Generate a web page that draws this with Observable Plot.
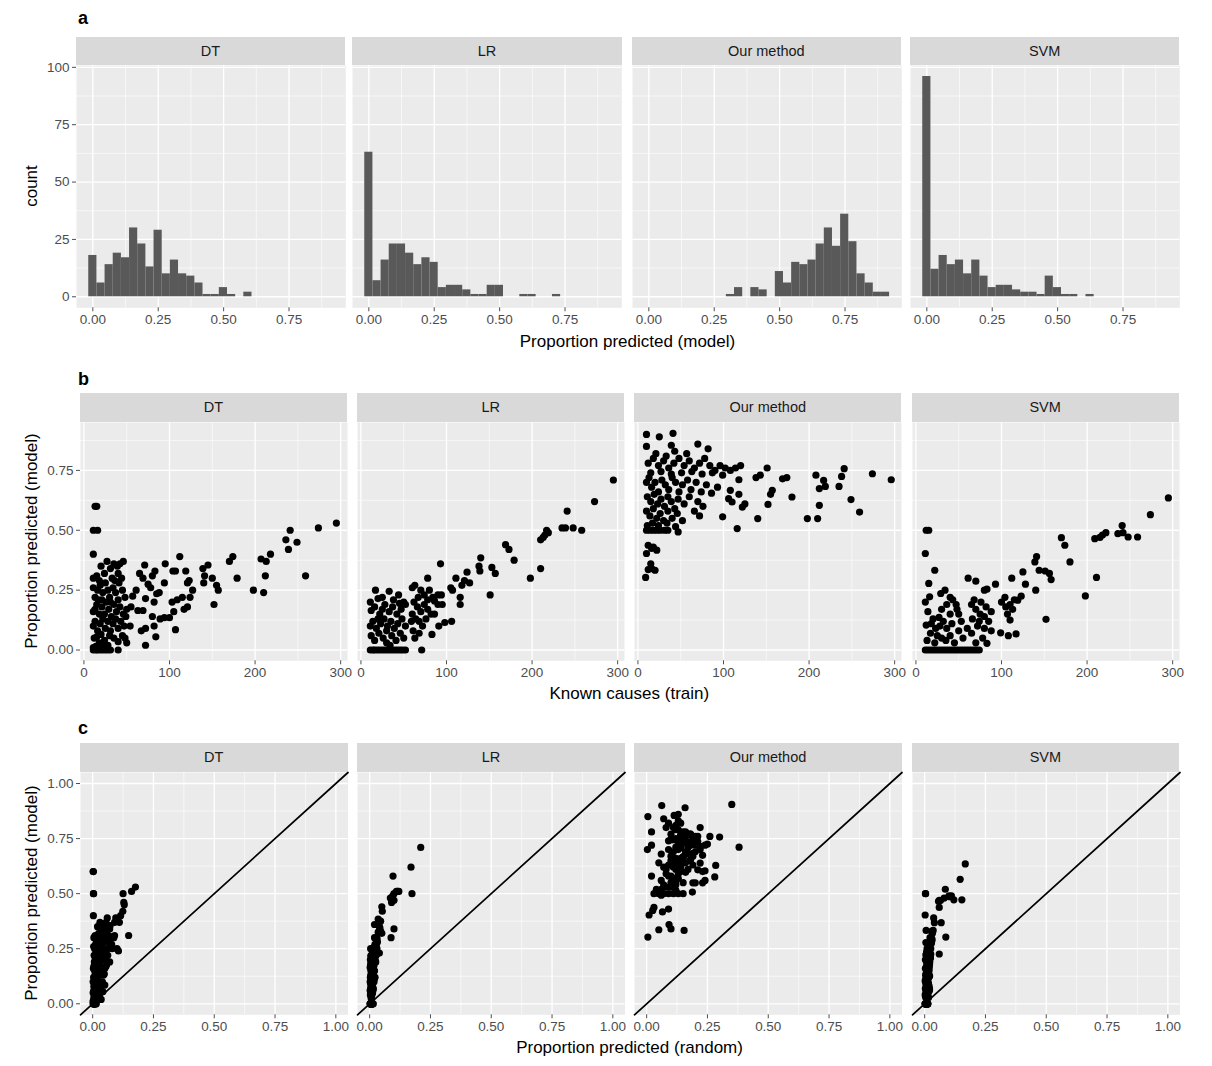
<!DOCTYPE html>
<html><head><meta charset="utf-8">
<script src="https://cdn.jsdelivr.net/npm/d3@7"></script>
<script src="https://cdn.jsdelivr.net/npm/@observablehq/plot@0.6"></script>
<style>
body{margin:0;background:#fff;font-family:"Liberation Sans",Arial,Helvetica,sans-serif;}
#fig{position:relative;width:1212px;height:1066px;overflow:hidden;background:#fff;}
.strip{position:absolute;background:#D9D9D9;color:#1A1A1A;font-size:14.5px;display:flex;align-items:center;justify-content:center;}
.lbl{position:absolute;font-weight:bold;font-size:18px;line-height:1;color:#000;}
.title{position:absolute;font-size:17px;line-height:1;color:#000;white-space:nowrap;transform:translate(-50%,-50%);}
.ytitle{position:absolute;font-size:17px;line-height:1;color:#000;white-space:nowrap;transform:translate(-50%,-50%) rotate(-90deg);}
</style></head><body><div id="fig"></div>
<script>
// ---------------- data ----------------
const methods = ["DT", "LR", "Our method", "SVM"];
const binWidth = 0.0312; // histogram bin width (bins centred on 0, 0.0312, ...)
const histDT  = [18,6,14,19,17,30,23,13,29,10,16,10,9,6,1,1,4,1,0,2];
const histLR  = [63,7,16,23,23,19,14,17,15,4,5,5,3,1,1,5,5,0,0,1,1,0,0,1];
const histOur = [0,0,0,0,0,0,0,0,0,0,1,4,0,4,3,0,11,6,15,14,16,23,30,22,36,24,10,6,2,2];
const histSVM = [96,12,18,14,16,10,16,9,4,5,5,3,2,2,1,9,4,1,1,0,1];

// each item: [known causes (train), proportion predicted (model), proportion predicted (random)]
const ptsDT = [
[295,0.53,0.176],[274,0.51,0.16],[241,0.50,0.125],[236,0.46,0.128],[239,0.42,0.124],[249,0.45,0.13],[259,0.31,0.148],[207,0.38,0.10],[213,0.37,0.11],[218,0.40,0.115],[212,0.31,0.09],[210,0.24,0.106],[198,0.25,0.10],[179,0.30,0.087],[170,0.37,0.09],[174,0.39,0.095],
[139,0.34,0.07],[145,0.355,0.072],[140,0.28,0.068],[141,0.31,0.066],[150,0.30,0.075],[155,0.27,0.078],[157,0.25,0.08],[152,0.19,0.07],
[112,0.39,0.06],[119,0.33,0.058],[123,0.29,0.06],[127,0.25,0.062],[121,0.28,0.055],[124,0.22,0.062],[121,0.18,0.058],[117,0.17,0.055],[115,0.22,0.057],[109,0.21,0.054],[105,0.16,0.05],[107,0.085,0.05],[103,0.20,0.05],
[95,0.36,0.048],[104,0.33,0.05],[107,0.33,0.052],[94,0.28,0.046],[94,0.135,0.045],[100,0.135,0.048],[89,0.13,0.044],[85,0.235,0.042],[88,0.24,0.043],[83,0.33,0.04],[82,0.20,0.04],[80,0.14,0.04],[82,0.10,0.04],[84,0.055,0.042],[80,0.31,0.041],
[71,0.355,0.035],[65,0.32,0.032],[69,0.30,0.035],[75,0.275,0.036],[78,0.26,0.038],[72,0.215,0.035],[69,0.165,0.034],[63,0.165,0.03],[67,0.08,0.033],[72,0.09,0.035],[72,0.02,0.035],[61,0.25,0.03],[57,0.225,0.028],[55,0.18,0.027],[54,0.10,0.027],[50,0.03,0.025],[48,0.05,0.024],
[13,0.60,0.002],[15,0.60,0.003],[11,0.50,0.003],[16,0.50,0.004],[11,0.40,0.003],
[11,0.30,0.005],[15,0.31,0.01],[20,0.35,0.02],[24,0.32,0.025],[27,0.37,0.03],[31,0.34,0.035],[35,0.36,0.04],[39,0.35,0.045],[42,0.36,0.05],[46,0.37,0.055],[40,0.32,0.03],[18,0.29,0.015],[33,0.30,0.025],[44,0.30,0.035],
[11,0.26,0.004],[16,0.25,0.008],[13,0.22,0.006],[19,0.27,0.012],[22,0.24,0.015],[25,0.28,0.02],[28,0.25,0.018],[30,0.22,0.02],[34,0.26,0.028],[37,0.24,0.03],[41,0.28,0.038],[45,0.25,0.035],[48,0.22,0.04],[21,0.21,0.012],[36,0.29,0.032],
[11,0.16,0.003],[13,0.17,0.005],[15,0.19,0.007],[18,0.15,0.008],[21,0.18,0.01],[24,0.15,0.012],[26,0.20,0.015],[29,0.17,0.016],[32,0.14,0.018],[35,0.19,0.022],[38,0.16,0.02],[42,0.18,0.028],[46,0.15,0.025],[50,0.17,0.03],[49,0.14,0.027],[17,0.21,0.01],[31,0.20,0.02],[40,0.21,0.025],
[11,0.10,0.002],[13,0.12,0.004],[16,0.08,0.005],[19,0.11,0.007],[22,0.13,0.01],[25,0.09,0.01],[28,0.12,0.013],[31,0.08,0.012],[34,0.11,0.016],[37,0.13,0.02],[40,0.09,0.018],[43,0.12,0.022],[47,0.10,0.024],[20,0.065,0.006],[30,0.06,0.01],[45,0.06,0.02],
[12,0.05,0.002],[15,0.055,0.004],[18,0.03,0.005],[24,0.04,0.008],[35,0.05,0.012],[40,0.035,0.015],[28,0.02,0.008],[14,0.015,0.003],[22,0.012,0.005],[11,0.01,0.002],
[11,0,0.002],[14,0,0.003],[16,0,0.004],[19,0,0.005],[22,0,0.006],[25,0,0.008],[28,0,0.01],[31,0,0.012],[40,0,0.015]
];
const ptsLR = [
[295,0.71,0.21],[273,0.62,0.17],[241,0.58,0.096],[235,0.51,0.11],[239,0.51,0.115],[248,0.51,0.12],[258,0.50,0.174],[217,0.50,0.10],[219,0.49,0.095],[210,0.46,0.09],[215,0.48,0.085],[213,0.47,0.10],[210,0.34,0.10],[198,0.30,0.088],[169,0.44,0.05],[173,0.42,0.052],[179,0.375,0.045],
[140,0.385,0.035],[138,0.35,0.04],[139,0.33,0.045],[153,0.345,0.042],[157,0.32,0.05],[151,0.23,0.04],[124,0.325,0.035],[127,0.28,0.032],[121,0.29,0.03],[111,0.30,0.03],[118,0.27,0.028],[107,0.25,0.03],[116,0.22,0.027],[116,0.19,0.025],[105,0.26,0.025],[94,0.23,0.024],[93,0.36,0.02],[78,0.30,0.02],[98,0.115,0.02],[106,0.12,0.022],[91,0.10,0.018],[83,0.065,0.015],[71,0,0.015],
[17,0.25,0.004],[11,0.20,0.003],[33,0.245,0.01],[44,0.23,0.012],[25,0.22,0.006],[38,0.21,0.01],[50,0.20,0.013],[20,0.215,0.005],
[12,0.165,0.002],[16,0.18,0.004],[22,0.15,0.005],[28,0.19,0.007],[33,0.16,0.008],[37,0.18,0.009],[42,0.15,0.01],[47,0.17,0.012],[52,0.19,0.014],[25,0.17,0.006],[45,0.195,0.011],
[11,0.10,0.002],[14,0.12,0.003],[18,0.09,0.004],[23,0.11,0.005],[27,0.13,0.006],[31,0.10,0.007],[35,0.12,0.008],[39,0.09,0.009],[43,0.11,0.01],[48,0.13,0.012],[52,0.10,0.013],[20,0.13,0.005],[30,0.08,0.007],
[12,0.06,0.002],[16,0.04,0.003],[21,0.07,0.004],[26,0.05,0.005],[30,0.03,0.006],[36,0.06,0.008],[41,0.04,0.009],[46,0.07,0.01],[50,0.05,0.011],[34,0.02,0.007],
[11,0,0.002],[14,0,0.002],[16,0,0.003],[19,0,0.004],[22,0,0.004],[25,0,0.005],[28,0,0.006],[31,0,0.006],[34,0,0.007],[37,0,0.008],[40,0,0.008],[43,0,0.009],[46,0,0.01],[49,0,0.01],[52,0,0.011],
[60,0.26,0.02],[63,0.27,0.022],[67,0.22,0.018],[70,0.25,0.02],[74,0.23,0.022],[78,0.21,0.02],[80,0.25,0.025],[84,0.22,0.024],[86,0.205,0.022],[90,0.19,0.022],[95,0.19,0.024],[62,0.20,0.015],[66,0.18,0.016],[70,0.16,0.015],[74,0.19,0.018],[78,0.17,0.017],[82,0.15,0.018],[60,0.15,0.013],[64,0.13,0.014],[59,0.12,0.012],[68,0.12,0.014],[72,0.10,0.015],[76,0.13,0.016],[61,0.08,0.012],[63,0.05,0.012],[68,0.07,0.014],[86,0.15,0.02],[90,0.23,0.025]
];
const ptsOur = [
[10,0.90,0.062],[41,0.905,0.35],[25,0.89,0.158],[10,0.85,0.005],[39,0.855,0.113],[70,0.86,0.13],[82,0.84,0.07],[43,0.83,0.13],
[151,0.76,0.26],[138,0.72,0.20],[143,0.73,0.18],[169,0.715,0.22],[174,0.72,0.24],[208,0.73,0.16],[241,0.757,0.30],[238,0.725,0.25],[274,0.736,0.21],[296,0.711,0.38],[217,0.708,0.14],[219,0.683,0.19],[212,0.674,0.23],[235,0.683,0.17],[249,0.628,0.284],[259,0.576,0.28],[212,0.604,0.24],[210,0.549,0.23],[198,0.549,0.20],[180,0.639,0.22],[157,0.667,0.15],[155,0.65,0.18],[152,0.608,0.21],[140,0.549,0.19],[116,0.507,0.188],[122,0.597,0.16],[125,0.61,0.17],[118,0.711,0.12],[108,0.667,0.15],[118,0.65,0.11],[106,0.632,0.13],[110,0.618,0.14],[99,0.556,0.12],[93,0.68,0.16],
[12,0.78,0.02],[18,0.80,0.08],[24,0.77,0.10],[30,0.79,0.12],[36,0.76,0.14],[42,0.78,0.16],[48,0.80,0.11],[54,0.77,0.18],[60,0.79,0.13],[66,0.76,0.20],[72,0.78,0.15],[78,0.80,0.22],[84,0.77,0.17],[90,0.75,0.19],[96,0.77,0.14],[102,0.76,0.21],[108,0.75,0.12],[114,0.76,0.16],[120,0.77,0.18],[15,0.74,0.09],[27,0.745,0.11],[39,0.735,0.13],[51,0.74,0.15],[63,0.745,0.10],[75,0.735,0.17],[87,0.74,0.14],[99,0.73,0.20],[33,0.81,0.12],[57,0.82,0.09],[21,0.82,0.14],
[10,0.70,0.003],[13,0.72,0.02],[16,0.68,0.06],[20,0.70,0.09],[24,0.66,0.12],[28,0.71,0.14],[32,0.69,0.16],[36,0.67,0.10],[40,0.72,0.18],[44,0.70,0.13],[48,0.66,0.15],[52,0.69,0.20],[58,0.71,0.17],[62,0.67,0.19],[68,0.70,0.22],[74,0.66,0.14],[80,0.69,0.11],[86,0.655,0.18],
[11,0.64,0.05],[15,0.62,0.07],[19,0.65,0.10],[23,0.61,0.12],[27,0.63,0.09],[31,0.60,0.14],[35,0.64,0.16],[39,0.62,0.11],[43,0.59,0.13],[47,0.63,0.19],[54,0.61,0.08],[60,0.64,0.15],[70,0.62,0.12],[76,0.60,0.23],
[10,0.58,0.02],[14,0.56,0.06],[18,0.59,0.08],[22,0.55,0.10],[26,0.57,0.13],[30,0.54,0.07],[35,0.58,0.09],[40,0.55,0.15],[46,0.57,0.11],[52,0.54,0.12],[66,0.58,0.10],[72,0.56,0.24],
[11,0.52,0.04],[17,0.53,0.08],[24,0.52,0.06],[34,0.53,0.10],[44,0.515,0.12],
[10,0.50,0.03],[14,0.50,0.05],[18,0.50,0.07],[22,0.50,0.09],[26,0.50,0.11],[31,0.50,0.13],[35,0.50,0.15],[47,0.493,0.06],
[9,0.303,0.005],[12,0.336,0.05],[16,0.34,0.10],[20,0.333,0.154],[15,0.36,0.092],[10,0.403,0.01],[16,0.424,0.025],[22,0.417,0.065],[18,0.43,0.09],[12,0.4375,0.03]
];
const ptsSVM = [
[295,0.635,0.167],[274,0.565,0.146],[241,0.52,0.085],[236,0.486,0.102],[242,0.49,0.11],[248,0.472,0.153],[259,0.472,0.12],[209,0.465,0.057],[215,0.47,0.06],[218,0.48,0.08],[222,0.49,0.10],[211,0.303,0.087],[198,0.226,0.06],[170,0.469,0.065],[174,0.4375,0.06],[180,0.368,0.068],
[141,0.39,0.037],[139,0.368,0.04],[144,0.333,0.035],[151,0.33,0.03],[156,0.32,0.032],[158,0.294,0.03],[140,0.25,0.025],[152,0.128,0.02],[125,0.326,0.03],[128,0.275,0.028],[112,0.30,0.027],[123,0.225,0.025],[119,0.208,0.024],[115,0.21,0.023],[105,0.18,0.02],[110,0.125,0.02],[99,0.072,0.018],[108,0.06,0.02],[117,0.067,0.02],[93,0.275,0.025],[83,0.254,0.02],[80,0.25,0.022],[70,0.2875,0.03],[61,0.30,0.022],
[100,0.20,0.02],[104,0.22,0.022],[110,0.19,0.021],[113,0.17,0.019],[107,0.15,0.018],
[12,0.50,0.003],[15,0.50,0.004],[11,0.403,0.002],[22,0.333,0.006],[15,0.278,0.005],[34,0.25,0.01],[29,0.236,0.008],[16,0.222,0.005],[11,0.20,0.003],[40,0.22,0.009],[43,0.21,0.01],
[47,0.19,0.01],[48,0.17,0.01],[50,0.15,0.011],[53,0.12,0.012],[27,0.136,0.006],[20,0.13,0.004],[12,0.104,0.002],[17,0.07,0.003],[25,0.06,0.005],[35,0.04,0.007],[45,0.03,0.008],[55,0.05,0.01],[60,0.09,0.012],[14,0.16,0.003],[18,0.11,0.004],[23,0.09,0.005],[28,0.10,0.006],[32,0.12,0.007],[36,0.09,0.008],[40,0.15,0.009],[42,0.11,0.009],[30,0.17,0.007],[36,0.19,0.008],[13,0.04,0.002],[22,0.03,0.004],[30,0.05,0.006],[40,0.06,0.008],[50,0.08,0.01],
[65,0.19,0.013],[70,0.17,0.014],[75,0.15,0.015],[80,0.14,0.016],[85,0.12,0.017],[72,0.10,0.014],[65,0.07,0.013],[78,0.05,0.015],[83,0.028,0.016],[70,0.03,0.014],[68,0.21,0.014],[76,0.20,0.016],[82,0.18,0.017],[88,0.16,0.018],[66,0.13,0.013],[74,0.12,0.015],[80,0.09,0.016],[88,0.08,0.018],
[11,0,0.002],[14,0,0.002],[17,0,0.003],[20,0,0.003],[23,0,0.004],[26,0,0.005],[29,0,0.005],[32,0,0.006],[35,0,0.006],[38,0,0.007],[41,0,0.007],[44,0,0.008],[47,0,0.008],[50,0,0.009],[53,0,0.01],[56,0,0.01],[59,0,0.011],[62,0,0.011],[65,0,0.012],[68,0,0.012],[71,0,0.013],[74,0,0.013]
];

// tick values
const ticksA_x = [0, 0.25, 0.5, 0.75];
const minorA_x = [0.125, 0.375, 0.625, 0.875];
const ticksA_y = [0, 25, 50, 75, 100];
const minorA_y = [12.5, 37.5, 62.5, 87.5];
const ticksB_x = [0, 100, 200, 300];
const minorB_x = [50, 150, 250];
const ticksB_y = [0, 0.25, 0.5, 0.75];
const minorB_y = [0.125, 0.375, 0.625, 0.875];
const ticksC = [0, 0.25, 0.5, 0.75, 1];
const minorC = [0.125, 0.375, 0.625, 0.875];

const hists = [histDT, histLR, histOur, histSVM];
const points = [ptsDT, ptsLR, ptsOur, ptsSVM];

// ---------------- layout ----------------
const fig = document.getElementById("fig");
const f2 = d3.format(".2f");
const fInt = d3.format("d");
const cDomain = [-0.05, 1.05];

const rows = [
  {letter:"a", stripTop:37.3, top:65, h:242.3, w:269.3, lefts:[75.7,352.3,631.7,910],
   xDomain:[-0.0624,0.967], yDomain:[-4.8,100.8], xT:ticksA_x, xM:minorA_x, yT:ticksA_y, yM:minorA_y,
   xF:f2, yF:fInt, letterTop:9,
   xTitle:"Proportion predicted (model)", xTitleY:341, yTitle:"count"},
  {letter:"b", stripTop:393, top:421.7, h:238.3, w:267, lefts:[80,357.3,634.3,911.6],
   xDomain:[-4,308], yDomain:[-0.045,0.95], xT:ticksB_x, xM:minorB_x, yT:ticksB_y, yM:minorB_y,
   xF:fInt, yF:f2, letterTop:370,
   xTitle:"Known causes (train)", xTitleY:693, yTitle:"Proportion predicted (model)"},
  {letter:"c", stripTop:743.3, top:771.7, h:242.3, w:267.5, lefts:[80,357.3,634.3,911.6],
   xDomain:cDomain, yDomain:cDomain, xT:ticksC, xM:minorC, yT:ticksC, yM:minorC,
   xF:f2, yF:f2, letterTop:719,
   xTitle:"Proportion predicted (random)", xTitleY:1047, yTitle:"Proportion predicted (model)"}
];

function addDiv(cls, text, css) {
  const d = document.createElement("div");
  d.className = cls; d.textContent = text;
  Object.assign(d.style, css);
  fig.appendChild(d);
  return d;
}

rows.forEach((row, r) => {
  addDiv("lbl", row.letter, {left:"78px", top:row.letterTop + "px"});
  const x0 = row.lefts[0], x1 = row.lefts[3] + row.w;
  addDiv("title", row.xTitle, {left:((x0 + x1) / 2) + "px", top:row.xTitleY + "px"});
  addDiv("ytitle", row.yTitle, {left:"30.5px", top:(row.top + row.h / 2) + "px"});

  methods.forEach((m, i) => {
    const left = row.lefts[i];
    addDiv("strip", m, {left:left + "px", top:row.stripTop + "px", width:row.w + "px", height:(row.top - row.stripTop) + "px"});

    let dataMarks;
    if (r === 0) {
      const bins = hists[i].map((c, k) => ({x1:(k - 0.5) * binWidth, x2:(k + 0.5) * binWidth, count:c})).filter(d => d.count > 0);
      dataMarks = [Plot.rectY(bins, {x1:"x1", x2:"x2", y:"count", fill:"#595959"})];
    } else if (r === 1) {
      dataMarks = [Plot.dot(points[i], {x:d => d[0], y:d => d[1], r:3.6, fill:"black", stroke:"none"})];
    } else {
      dataMarks = [
        Plot.line(cDomain, {x:d => d, y:d => d, stroke:"black", strokeWidth:1.7}),
        Plot.dot(points[i], {x:d => d[2], y:d => d[1], r:3.6, fill:"black", stroke:"none"})
      ];
    }

    const marks = [
      Plot.frame({fill:"#EBEBEB", stroke:"none"}),
      Plot.gridX({ticks:row.xM, stroke:"white", strokeOpacity:1, strokeWidth:0.6}),
      Plot.gridY({ticks:row.yM, stroke:"white", strokeOpacity:1, strokeWidth:0.6}),
      Plot.gridX({ticks:row.xT, stroke:"white", strokeOpacity:1, strokeWidth:1.3}),
      Plot.gridY({ticks:row.yT, stroke:"white", strokeOpacity:1, strokeWidth:1.3}),
      ...dataMarks,
      Plot.axisX({ticks:row.xT, tickFormat:row.xF, tickSize:4, tickPadding:3, fontSize:13.5, color:"#4D4D4D", label:null})
    ];
    if (i === 0) marks.push(Plot.axisY({ticks:row.yT, tickFormat:row.yF, tickSize:4, tickPadding:3, fontSize:13.5, color:"#4D4D4D", label:null}));

    const yOpts = {domain: row.yDomain};
    if (i !== 0) yOpts.axis = null;
    const svg = Plot.plot({
      width: row.w, height: row.h + 30,
      marginLeft: 0, marginRight: 0, marginTop: 0, marginBottom: 30,
      x: {domain: row.xDomain}, y: yOpts,
      style: {background:"transparent", overflow:"visible", fontFamily:"'Liberation Sans', Arial, Helvetica, sans-serif"},
      marks
    });
    svg.style.position = "absolute";
    svg.style.left = left + "px";
    svg.style.top = row.top + "px";
    svg.style.maxWidth = "none";
    fig.appendChild(svg);
  });
});
</script>
</body></html>
